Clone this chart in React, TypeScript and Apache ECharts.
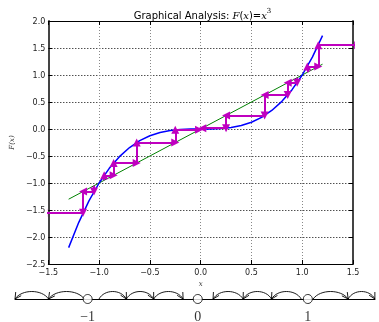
import React, { useEffect, useRef } from "react";
import * as echarts from "echarts";

// y = F(x) = x^3 sampled values
const curveX = [-1.3, -1.2, -1.1, -1.0, -0.9, -0.8, -0.7, -0.6, -0.5, -0.4, -0.3, -0.2, -0.1, 0.0, 0.1, 0.2, 0.3, 0.4, 0.5, 0.6, 0.7, 0.8, 0.9, 1.0, 1.1, 1.2];
const curveY = [-2.197, -1.728, -1.331, -1.0, -0.729, -0.512, -0.343, -0.216, -0.125, -0.064, -0.027, -0.008, -0.001, 0.0, 0.001, 0.008, 0.027, 0.064, 0.125, 0.216, 0.343, 0.512, 0.729, 1.0, 1.331, 1.728];
const diagX = [-1.3, 1.2];

// orbits shown by the cobweb
const orbitPosIn = [0.95, 0.857, 0.63, 0.25, 0.016];
const orbitPosOut = [1.05, 1.158, 1.551];
const orbitNegIn = [-0.95, -0.857, -0.63, -0.25, -0.016];
const orbitNegOut = [-1.05, -1.158, -1.551];

const xTicks = [-1.5, -1.0, -0.5, 0.0, 0.5, 1.0, 1.5];
const yTicks = [-2.5, -2.0, -1.5, -1.0, -0.5, 0.0, 0.5, 1.0, 1.5, 2.0];

// phase line
const fixedPoints = [-1, 0, 1];
const fixedLabels = ["\u22121", "0", "1"];
const phaseArcs: [number, number][] = [
  [-1.03, -1.355], [-1.355, -1.66],
  [-0.897, -0.648], [-0.648, -0.4], [-0.4, -0.133],
  [0.94, 0.67], [0.67, 0.412], [0.412, 0.139],
  [1.048, 1.366], [1.366, 1.609],
];

function cobweb(orbit: number[]) {
  const segs: any[] = [];
  for (let i = 0; i < orbit.length - 1; i++) {
    const a = orbit[i], b = orbit[i + 1];
    segs.push({ coords: [[a, a], [a, b]] });
    segs.push({ coords: [[a, b], [b, b]] });
  }
  return segs;
}

const fmt = (v: number) => {
  const s = Math.abs(v).toFixed(1);
  return v < 0 ? "\u2212" + s : s;
};

export default function App() {
  const ref = useRef<HTMLDivElement>(null);
  useEffect(() => {
    if (!ref.current) return;
    const chart = echarts.init(ref.current, null, { renderer: "svg" });
    const L = 42, T = 21, W = 311, H = 243;
    const tickFont = { fontFamily: "DejaVu Sans", fontSize: 8, color: "#222" };
    const segs = [
      ...cobweb(orbitPosIn),
      ...cobweb(orbitPosOut),
      ...cobweb(orbitNegIn),
      ...cobweb(orbitNegOut),
    ];
    chart.setOption({
      animation: false,
      title: {
        left: L + W / 2,
        top: 2,
        textAlign: "center",
        text: "{a|Graphical Analysis: }{b|F}{a|(}{b|x}{a|)=}{b|x}{s|3}",
        textStyle: {
          fontWeight: "normal",
          rich: {
            a: { fontFamily: "DejaVu Sans", fontWeight: "normal", fontSize: 10, color: "#000", lineHeight: 13, verticalAlign: "bottom" },
            b: { fontFamily: "DejaVu Serif", fontWeight: "normal", fontStyle: "italic", fontSize: 10, color: "#000", lineHeight: 13, verticalAlign: "bottom" },
            s: { fontFamily: "DejaVu Serif", fontWeight: "normal", fontSize: 7, color: "#000", lineHeight: 13, verticalAlign: "top" },
          },
        },
      },
      grid: [
        { left: L, top: T, width: W, height: H },
        { left: 15, top: 279, width: 360, height: 20 },
      ],
      xAxis: [
        {
          gridIndex: 0, type: "value", min: -1.5, max: 1.5, interval: 0.5,
          axisLine: { onZero: false, lineStyle: { color: "#000", width: 1 } },
          axisTick: { inside: true, length: 4, lineStyle: { color: "#000" } },
          axisLabel: { ...tickFont, formatter: fmt, margin: 4 },
          splitLine: { show: true, lineStyle: { color: "#888", type: [1, 2], width: 1 } },
          name: "x", nameLocation: "middle", nameGap: 14,
          nameTextStyle: { fontFamily: "DejaVu Serif", fontStyle: "italic", fontSize: 7, color: "#333" },
        },
        {
          gridIndex: 0, type: "value", min: -1.5, max: 1.5, interval: 0.5, position: "top",
          axisLine: { onZero: false, lineStyle: { color: "#000", width: 1 } },
          axisTick: { inside: true, length: 4, lineStyle: { color: "#000" } },
          axisLabel: { show: false }, splitLine: { show: false },
        },
        {
          gridIndex: 1, type: "value", min: -1.66, max: 1.61,
          axisLine: { show: true, onZero: false, lineStyle: { color: "#000", width: 1 } },
          axisTick: { show: false }, axisLabel: { show: false }, splitLine: { show: false },
        },
      ],
      yAxis: [
        {
          gridIndex: 0, type: "value", min: -2.5, max: 2.0, interval: 0.5,
          axisLine: { onZero: false, lineStyle: { color: "#444", width: 2 } },
          axisTick: { inside: true, length: 4, lineStyle: { color: "#000" } },
          axisLabel: { ...tickFont, formatter: fmt, margin: 3 },
          splitLine: { show: true, lineStyle: { color: "#000", type: [1, 2], width: 1 } },
          name: "F(x)", nameLocation: "middle", nameGap: 28,
          nameTextStyle: { fontFamily: "DejaVu Serif", fontStyle: "italic", fontSize: 7, color: "#333" },
        },
        {
          gridIndex: 0, type: "value", min: -2.5, max: 2.0, interval: 0.5, position: "right",
          axisLine: { onZero: false, lineStyle: { color: "#444", width: 2 } },
          axisTick: { inside: true, length: 4, lineStyle: { color: "#000" } },
          axisLabel: { show: false }, splitLine: { show: false },
        },
        { gridIndex: 1, type: "value", min: 0, max: 1, show: false },
      ],
      series: [
        {
          type: "line", xAxisIndex: 0, yAxisIndex: 0,
          data: diagX.map((v) => [v, v]),
          showSymbol: false, lineStyle: { color: "#008000", width: 1 }, z: 2,
        },
        {
          type: "line", xAxisIndex: 0, yAxisIndex: 0,
          data: curveX.map((v, i) => [v, curveY[i]]),
          showSymbol: false, lineStyle: { color: "#0000ff", width: 1.5 }, z: 3,
        },
        {
          type: "lines", coordinateSystem: "cartesian2d", xAxisIndex: 0, yAxisIndex: 0,
          data: segs, clip: true,
          symbol: ["none", "triangle"], symbolSize: 8,
          lineStyle: { color: "#bf00bf", width: 2, opacity: 1 },
          itemStyle: { color: "#bf00bf" },
          z: 4,
        },
        {
          type: "custom", xAxisIndex: 2, yAxisIndex: 2, coordinateSystem: "cartesian2d",
          data: phaseArcs, clip: false,
          renderItem: (params: any, api: any) => {
            const s = api.value(0), e = api.value(1);
            const p1 = api.coord([s, 0]);
            const p2 = api.coord([e, 0]);
            const d = p2[0] - p1[0];
            const h = 10;
            const c2x = p1[0] + d * 0.8, c2y = p1[1] - h;
            let ux = p2[0] - c2x, uy = p2[1] - c2y;
            const n = Math.hypot(ux, uy);
            ux /= n; uy /= n;
            const len = 7, ang = (28 * Math.PI) / 180;
            const wing = (sgn: number) => {
              const bx = -ux, by = -uy;
              const c = Math.cos(sgn * ang), sn = Math.sin(sgn * ang);
              return [p2[0] + len * (bx * c - by * sn), p2[1] + len * (bx * sn + by * c)];
            };
            return {
              type: "group",
              children: [
                {
                  type: "bezierCurve",
                  shape: { x1: p1[0], y1: p1[1], cpx1: p1[0] + d * 0.2, cpy1: p1[1] - h, cpx2: c2x, cpy2: c2y, x2: p2[0], y2: p2[1] },
                  style: { stroke: "#000", fill: null, lineWidth: 0.9 },
                },
                {
                  type: "polyline",
                  shape: { points: [wing(1), p2, wing(-1)] },
                  style: { stroke: "#000", fill: null, lineWidth: 0.9 },
                },
              ],
            };
          },
        },
        {
          type: "scatter", xAxisIndex: 2, yAxisIndex: 2,
          data: fixedPoints.map((v) => [v, 0]),
          symbol: "circle", symbolSize: 9, clip: false, z: 5,
          itemStyle: { color: "#fff", borderColor: "#000", borderWidth: 1 },
          label: {
            show: true, position: "bottom", distance: 5,
            formatter: (p: any) => fixedLabels[p.dataIndex],
            fontFamily: "Liberation Serif", fontSize: 14, color: "#000",
          },
        },
      ],
    });
    return () => chart.dispose();
  }, []);
  return <div ref={ref} style={{ position: "fixed", left: 0, top: 0, width: 379, height: 322 }} />;
}
